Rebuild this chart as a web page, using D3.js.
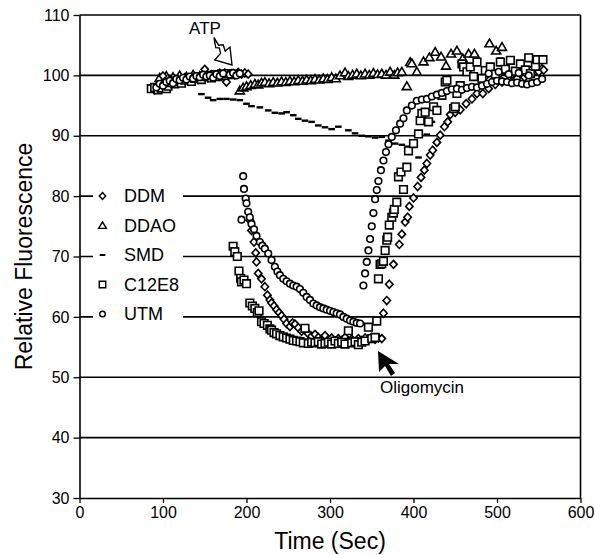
<!DOCTYPE html>
<html>
<head>
<meta charset="utf-8">
<script src="https://cdn.jsdelivr.net/npm/d3@7"></script>
<style>
  body { margin: 0; background: #fff; }
  text { font-family: "Liberation Sans", Arial, sans-serif; fill: #000; }
</style>
</head>
<body>
<script>
// series data: [time (s), relative fluorescence]
const ddm = [
  [90,97.6],[94,98.4],[98,98.0],[100,99.9],[102,98.9],[106,98.5],[110,99.2],[114,98.7],[118,99.3],[122,99.0],
  [126,99.6],[130,99.1],[134,99.5],[138,99.8],[142,99.3],[146,99.9],[150,101.0],[154,99.6],[158,100.1],[162,99.7],
  [166,100.2],[170,99.9],[174,100.4],[176,98.9],[178,100.0],[182,100.3],[186,100.1],[190,100.5],[194,100.2],[198,100.4],[202,100.2],
  [204,76.0],[206,74.3],[209,72.4],[211,70.6],[212,69.1],[214,67.2],[218,66.3],[222,65.0],[225,63.6],[228,62.8],
  [230,62.3],[233,61.8],[236,61.2],[239,60.7],[242,60.2],[245,59.6],[248,58.9],[252,58.4],[255,59.0],[258,58.8],
  [262,58.2],[266,57.6],[270,57.9],[274,57.2],[278,56.8],[282,57.1],[286,56.6],[290,56.3],[294,56.9],[298,56.2],
  [302,56.5],[306,56.0],[310,56.4],[314,56.1],[318,56.6],[322,56.0],[326,56.3],[330,55.9],[334,56.4],[338,56.1],
  [342,56.5],[346,56.2],[350,56.6],[354,56.3],[358,56.5],[362,56.4],
  [364,60.6],[368,62.7],[371,65.4],[376,68.7],[383,72.0],[386,73.7],[390,75.7],[393,76.5],[395,78.3],[400,79.7],
  [405,81.6],[409,83.1],[413,84.3],[416,85.4],[420,86.8],[423,87.6],[428,88.9],[432,90.1],[437,91.5],[441,92.3],
  [444,93.5],[450,93.9],[456,94.3],[463,95.3],[470,96.1],[476,97.0],[483,97.0],[490,97.8],[498,98.5],[506,98.9],
  [514,99.2],[524,99.5],[533,99.7],[543,100.3],[554,101.1],
  [486,99.8],[494,100.4],[502,100.1],[510,100.6],[518,100.2],[526,100.8],[534,100.4],[542,101.0],[550,100.6],[556,100.9]
];

const ddao = [
  [96,99.6],[104,99.9],[112,99.7],[120,100.0],[128,99.8],[136,100.1],[144,99.9],[152,100.2],[160,100.0],[168,100.3],
  [176,100.1],[184,100.2],
  [192,97.5],[196,98.0],[200,98.2],[205,98.4],[210,98.6],[214,98.5],[218,98.8],[222,98.9],[227,98.7],[232,98.9],
  [237,98.8],[242,99.0],[247,98.9],[252,99.1],[257,99.0],[262,99.2],[267,99.1],[272,99.3],[277,99.2],[282,99.4],
  [287,99.3],[292,99.5],[297,99.4],[302,99.7],[307,99.5],[312,100.0],[318,100.5],[322,99.9],[327,100.1],[332,100.3],
  [337,100.0],[342,100.3],[347,100.1],[352,100.4],[357,100.2],[362,100.3],[367,100.1],[372,100.6],[377,100.1],[381,100.5],
  [386,100.6],[392,98.2],[396,102.2],[398,102.0],[404,100.6],[412,102.3],[419,103.0],[426,103.9],[433,103.1],[439,101.6],
  [445,103.6],[452,104.1],[459,102.8],[466,103.6],[473,103.6],[491,105.3],[499,104.1],[506,104.7]
];

const smd = [
  [146,96.9],[154,96.3],[160,95.9],[168,96.1],[176,96.1],[184,96.0],[192,95.9],[200,95.3],[206,94.9],[216,94.7],
  [226,94.2],[234,93.8],[242,93.7],[248,93.9],[256,93.4],[262,92.8],[270,92.5],[278,92.3],[286,91.7],[294,91.4],
  [302,91.1],[310,91.5],[322,90.9],[330,90.4],[338,90.0],[346,89.9],[354,89.7],[362,89.8],[370,89.2],[378,88.7],
  [386,88.5],[394,88.2],[400,88.4],[406,86.4],[416,90.2],[422,92.3],[504,102.8],[516,102.5]
];

const c12e8 = [
  [86,97.8],[90,98.0],[94,97.6],[98,97.9],[102,98.5],[104,97.8],[106,98.2],[110,98.8],[114,98.6],[118,99.0],[122,98.7],
  [126,99.2],[130,99.4],[134,99.0],[138,99.5],[142,99.7],[146,99.3],[150,99.8],[154,100.0],[158,99.6],[162,100.1],
  [166,99.8],[170,100.2],[174,100.0],[178,100.3],[182,100.1],
  [184,71.7],[186,70.8],[189,70.0],[191,67.6],[193,66.4],[194,65.8],[197,66.1],[200,65.5],[204,62.3],[207,61.8],
  [210,61.4],[213,60.7],[215,61.0],[218,59.2],[221,58.9],[225,58.6],[228,58.0],[230,57.8],[233,57.4],[236,57.2],
  [240,56.9],[244,56.7],[248,56.5],[252,56.3],[256,56.1],[260,56.0],[264,55.9],[268,55.7],[270,58.1],[274,55.6],
  [278,55.8],[282,55.7],[286,55.9],[290,55.5],[294,55.6],[298,55.8],[302,55.5],[306,56.0],[310,55.6],[314,55.8],
  [318,55.5],[322,57.7],[326,55.7],[330,55.9],[334,55.4],[338,55.8],[342,56.0],[346,58.3],[350,56.4],[354,56.6],[356,59.3],
  [358,66.3],[360,68.7],[362,68.8],[364,69.2],[366,71.0],[368,72.7],[369,73.2],[371,75.2],[374,76.5],[376,77.2],
  [377,77.8],[380,79.0],[382,83.2],[385,84.0],[388,81.1],[392,84.8],[394,87.5],[400,88.7],[406,90.3],[408,92.5],
  [410,93.7],[414,93.9],[418,92.3],[424,94.8],[428,94.2],[434,96.7],[438,98.9],[440,99.2],[448,94.5],[450,94.8],
  [452,97.0],[456,98.3],[458,101.9],[460,101.4],[464,100.6],[468,101.4],[472,99.8],[476,102.2],[482,99.5],[486,100.8],
  [492,101.4],[498,100.2],[504,102.2],[510,101.0],[516,102.5],[522,100.7],[528,101.9],[534,100.9],[538,102.9],[540,100.3],
  [546,101.5],[548,102.6],[555,102.6]
];

const utm = [
  [92,98.0],[96,98.6],[100,98.3],[104,98.9],[108,99.1],[112,98.7],[116,99.4],[120,99.2],[124,99.6],[128,99.3],
  [132,99.8],[136,99.5],[140,99.9],[144,99.7],[148,100.1],[152,99.8],[156,100.0],[160,99.6],[164,100.2],[168,99.9],
  [172,100.3],[180,100.1],[184,100.4],[188,100.0],[192,100.3],
  [194,76.1],[196,83.3],[197,81.2],[199,79.6],[200,78.8],[202,77.4],[204,76.5],[206,75.4],[209,74.5],[212,73.4],
  [216,72.4],[219,71.8],[222,71.3],[226,70.5],[230,69.4],[234,68.3],[237,67.5],[240,66.9],[244,66.3],[248,65.9],
  [252,65.5],[256,65.2],[260,65.0],[264,64.6],[268,64.0],[272,63.3],[276,62.8],[280,62.2],[284,61.9],[288,61.6],
  [292,61.4],[296,61.2],[300,61.0],[304,60.8],[308,60.6],[312,60.4],[316,60.0],[320,59.7],[324,59.4],[328,59.2],
  [332,59.0],[336,58.9],
  [340,65.2],[342,67.2],[344,69.1],[346,71.0],[348,72.9],[350,75.0],[352,77.2],[354,79.5],[356,81.0],[358,82.5],
  [361,84.3],[364,85.9],[367,87.3],[370,88.6],[374,89.8],[379,90.9],[384,92.0],[388,92.9],[392,94.2],[398,95.0],
  [404,95.8],[410,96.0],[416,96.1],[422,96.5],[428,96.8],[434,97.1],[440,97.4],[446,97.7],[452,97.8],[458,97.6],
  [464,97.9],[470,98.1],[476,98.0],[482,98.3],[488,98.6],[494,98.9],[500,99.1],[506,99.0],[512,98.9],[518,98.7],
  [524,98.8],[530,98.6],[536,98.5],[542,98.7],[548,98.9],[554,99.4],
  [490,100.3],[502,100.6],[514,100.2],[526,100.4],[538,100.0]
];

const seriesNames = ["DDM", "DDAO", "SMD", "C12E8", "UTM"];
const seriesShapes = ["diamond", "triangle", "dash", "square", "circle"];
const xTicks = [0, 100, 200, 300, 400, 500, 600];
const yTicks = [30, 40, 50, 60, 70, 80, 90, 100, 110];

const width = 595, height = 555;

const svg = d3.select("body").append("svg")
  .attr("width", width)
  .attr("height", height);

const x = d3.scaleLinear().domain([0, 600]).range([79.5, 580.5]);
const y = d3.scaleLinear().domain([30, 110]).range([498, 15]);

const shapePath = (shape) => {
  switch (shape) {
    case "diamond": return "M0,-4L3.7,0L0,4L-3.7,0Z";
    case "triangle": return "M0,-4.3L4.5,3.4L-4.5,3.4Z";
    case "square": return "M-3.8,-3.8H3.8V3.8H-3.8Z";
    case "circle": return "M3.3,0A3.3,3.3 0 1,1 -3.3,0A3.3,3.3 0 1,1 3.3,0Z";
    default: return "M-3.3,-1.2H3.3V1.2H-3.3Z";
  }
};

// gridlines
svg.append("g").selectAll("line")
  .data(yTicks.filter(d => d > 30))
  .enter().append("line")
  .attr("x1", x(0)).attr("x2", x(600))
  .attr("y1", d => y(d)).attr("y2", d => y(d))
  .attr("stroke", "#000").attr("stroke-width", 1.6);

svg.append("line")
  .attr("x1", x(600)).attr("x2", x(600))
  .attr("y1", y(110)).attr("y2", y(30))
  .attr("stroke", "#000").attr("stroke-width", 1.6);

// axes
const xAxis = svg.append("g")
  .attr("transform", `translate(0,${y(30)})`)
  .call(d3.axisBottom(x).tickValues(xTicks).tickSize(5).tickSizeOuter(0).tickPadding(4));
const yAxis = svg.append("g")
  .attr("transform", `translate(${x(0)},0)`)
  .call(d3.axisLeft(y).tickValues(yTicks).tickSize(6).tickSizeOuter(0).tickPadding(4));
[xAxis, yAxis].forEach(a => {
  a.select(".domain").attr("stroke-width", 1.6);
  a.selectAll(".tick line").attr("stroke-width", 1.3);
  a.selectAll("text").style("font-size", "16px").style("font-family", '"Liberation Sans", Arial, sans-serif');
});

svg.append("text")
  .attr("x", x(300)).attr("y", 549)
  .attr("text-anchor", "middle")
  .style("font-size", "23px")
  .text("Time (Sec)");

svg.append("text")
  .attr("transform", `translate(32,${y(70)}) rotate(-90)`)
  .attr("text-anchor", "middle")
  .style("font-size", "23px")
  .text("Relative Fluorescence");

// data points
const allSeries = [ddao, smd, ddm, c12e8, utm];
const allShapes = ["triangle", "dash", "diamond", "square", "circle"];
allSeries.forEach((data, i) => {
  const shape = allShapes[i];
  svg.append("g").selectAll("path")
    .data(data)
    .enter().append("path")
    .attr("transform", d => `translate(${x(d[0])},${y(d[1])})`)
    .attr("d", shapePath(shape))
    .attr("fill", shape === "dash" ? "#000" : "#fff")
    .attr("stroke", shape === "dash" ? "none" : "#000")
    .attr("stroke-width", 1.6);
});

// legend
const legend = svg.append("g");
legend.append("rect")
  .attr("x", 93).attr("y", 180).attr("width", 90).attr("height", 150)
  .attr("fill", "#fff");
const rowY = d3.scalePoint().domain(seriesNames).range([196, 314]);
seriesNames.forEach((name, i) => {
  legend.append("path")
    .attr("transform", `translate(102.5,${rowY(name)}) scale(0.85)`)
    .attr("d", shapePath(seriesShapes[i]))
    .attr("fill", seriesShapes[i] === "dash" ? "#000" : "#fff")
    .attr("stroke", seriesShapes[i] === "dash" ? "none" : "#000")
    .attr("stroke-width", 1.7);
  legend.append("text")
    .attr("x", 124).attr("y", rowY(name))
    .attr("dy", "0.36em")
    .style("font-size", "18px")
    .text(name);
});

// ATP annotation (hollow arrow)
svg.append("text")
  .attr("x", 205).attr("y", 34)
  .attr("text-anchor", "middle")
  .style("font-size", "17px")
  .text("ATP");
svg.append("path")
  .attr("transform", "translate(232,65) rotate(50) scale(1.25)")
  .attr("d", "M0,0L-12,-8L-12,-3L-17,-5L-19,-2L-26,-3L-19,1L-17,-1L-13,1L-12,8Z")
  .attr("fill", "#fff")
  .attr("stroke", "#000")
  .attr("stroke-width", 1.1);

// Oligomycin annotation (filled arrow)
svg.append("path")
  .attr("transform", "translate(378,351)")
  .attr("d", "M0,0L1,21L7,15L13,25L17,22L11,13L21,13Z")
  .attr("fill", "#000");
svg.append("text")
  .attr("x", 422).attr("y", 393)
  .attr("text-anchor", "middle")
  .style("font-size", "17px")
  .text("Oligomycin");
</script>
</body>
</html>
